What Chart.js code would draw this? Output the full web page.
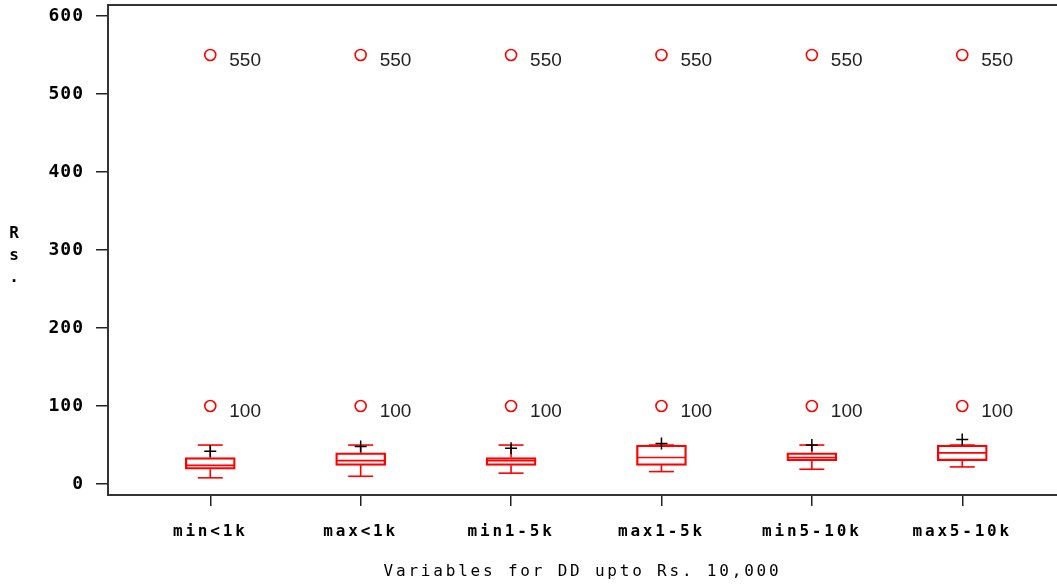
<!DOCTYPE html>
<html>
<head>
<meta charset="utf-8">
<script src="https://cdn.jsdelivr.net/npm/chart.js@4.4.1/dist/chart.umd.min.js"></script>
<style>
  body { margin: 0; background: #fff; }
  canvas { display: block; }
</style>
</head>
<body>
<canvas id="myChart" width="1057" height="586"></canvas>
<script>
// values
const categories = ['min<1k', 'max<1k', 'min1-5k', 'max1-5k', 'min5-10k', 'max5-10k'];
const whiskerLow = [8, 10, 14, 16, 19, 22];
const q1 = [19, 24, 24, 24, 30, 30];
const medians = [24, 30, 30, 34, 34, 40];
const q3 = [34, 40, 34, 50, 40, 50];
const whiskerHigh = [50, 50, 50, 50, 50, 50];
const means = [42, 48, 46, 52, 50, 57];
const outliers = [100, 550];
const yTicks = [0, 100, 200, 300, 400, 500, 600];

const red = '#ff0000';

// whisker segments, null breaks the line between them
const whiskerPoints = [];
categories.forEach((c, i) => {
  whiskerPoints.push({ x: i + 1, y: whiskerLow[i] }, { x: i + 1, y: q1[i] }, { x: i + 1, y: null });
  whiskerPoints.push({ x: i + 1, y: q3[i] }, { x: i + 1, y: whiskerHigh[i] }, { x: i + 1, y: null });
});

const capPoints = [];
categories.forEach((c, i) => {
  capPoints.push({ x: i + 1, y: whiskerLow[i] }, { x: i + 1, y: whiskerHigh[i] });
});

const outlierPoints = [];
categories.forEach((c, i) => {
  outliers.forEach((v) => outlierPoints.push({ x: i + 1, y: v }));
});

const framePlugin = {
  id: 'framePlugin',
  beforeDraw(chart) {
    chart.ctx.letterSpacing = '1px';
  },
  afterDatasetsDraw(chart) {
    const { ctx, chartArea, scales } = chart;
    ctx.save();
    ctx.letterSpacing = '0px';
    // top edge of the frame
    ctx.strokeStyle = '#333';
    ctx.lineWidth = 2;
    ctx.beginPath();
    ctx.moveTo(chartArea.left, chartArea.top);
    ctx.lineTo(chartArea.right, chartArea.top);
    ctx.stroke();

    // outlier labels
    ctx.font = '19px "Liberation Sans"';
    ctx.fillStyle = '#222';
    ctx.textAlign = 'left';
    ctx.textBaseline = 'alphabetic';
    outlierPoints.forEach((p) => {
      const px = scales.x.getPixelForValue(p.x);
      const py = scales.y.getPixelForValue(p.y);
      ctx.fillText(String(p.y), px + 19, py + 11);
    });

    // y title, stacked letters
    ctx.font = 'bold 16px "DejaVu Sans Mono"';
    ctx.fillStyle = '#000';
    ctx.textAlign = 'center';
    ctx.textBaseline = 'middle';
    ['R', 's', '.'].forEach((ch, k) => ctx.fillText(ch, 14, 234 + k * 22));
    ctx.restore();
    // x axis is drawn after this hook (z: 1), wider letter spacing there
    ctx.letterSpacing = '2.8px';
  },
  afterDraw(chart) {
    chart.ctx.letterSpacing = '0px';
  }
};

const ctx = document.getElementById('myChart').getContext('2d');
const chart = new Chart(ctx, {
  type: 'scatter',
  data: {
    datasets: [
      {
        type: 'scatter',
        label: 'mean',
        data: categories.map((c, i) => ({ x: i + 1, y: means[i] })),
        pointStyle: 'cross',
        radius: 6,
        borderColor: '#000',
        borderWidth: 1.5,
        order: 0
      },
      {
        type: 'scatter',
        label: 'outliers',
        data: outlierPoints,
        pointStyle: 'circle',
        radius: 5.5,
        borderColor: red,
        backgroundColor: '#fff',
        borderWidth: 1.6,
        order: 1
      },
      {
        type: 'scatter',
        label: 'median',
        data: categories.map((c, i) => ({ x: i + 1, y: medians[i] })),
        pointStyle: 'line',
        radius: 24,
        borderColor: red,
        borderWidth: 1.6,
        order: 2
      },
      {
        type: 'scatter',
        label: 'caps',
        data: capPoints,
        pointStyle: 'line',
        radius: 12.5,
        borderColor: red,
        borderWidth: 1.6,
        order: 3
      },
      {
        type: 'line',
        label: 'whiskers',
        data: whiskerPoints,
        borderColor: red,
        borderWidth: 1.6,
        pointRadius: 0,
        spanGaps: false,
        fill: false,
        order: 4
      },
      {
        type: 'bar',
        label: 'box',
        data: categories.map((c, i) => ({ x: i + 1, y: [q1[i], q3[i]] })),
        borderColor: red,
        backgroundColor: 'rgba(255,255,255,0)',
        borderWidth: 1.6,
        borderSkipped: false,
        barThickness: 50,
        order: 5
      }
    ]
  },
  options: {
    responsive: false,
    animation: false,
    events: [],
    layout: { autoPadding: false, padding: { top: 5, left: 0, right: 0, bottom: 0 } },
    plugins: {
      legend: { display: false },
      tooltip: { enabled: false }
    },
    scales: {
      x: {
        type: 'linear',
        min: 0.32,
        max: 6.63,
        offset: false,
        afterFit: (scale) => {
          scale.height = 91;
          scale.paddingLeft = 0;
          scale.paddingRight = 0;
        },
        afterBuildTicks: (scale) => {
          scale.ticks = categories.map((c, i) => ({ value: i + 1 }));
        },
        grid: { offset: false, drawOnChartArea: false, tickLength: 11, color: '#222', lineWidth: 1.5, z: 1 },
        border: { display: true, color: '#333', width: 2, z: 1 },
        ticks: {
          z: 1,
          autoSkip: false,
          maxRotation: 0,
          padding: 16,
          color: '#000',
          font: { family: 'DejaVu Sans Mono', size: 16, weight: 'bold' },
          callback: (v) => categories[v - 1]
        },
        title: {
          display: true,
          text: 'Variables for DD upto Rs. 10,000',
          color: '#000',
          font: { family: 'DejaVu Sans Mono', size: 16 },
          padding: { top: 0, bottom: 5 }
        }
      },
      y: {
        type: 'linear',
        min: -14,
        max: 614,
        afterFit: (scale) => {
          scale.width = 108;
          scale.paddingTop = 0;
          scale.paddingBottom = 0;
        },
        afterBuildTicks: (scale) => {
          scale.ticks = yTicks.map((v) => ({ value: v }));
        },
        grid: { drawOnChartArea: false, tickLength: 12, color: '#222', lineWidth: 1.5 },
        border: { display: true, color: '#333', width: 2 },
        ticks: {
          padding: 12,
          color: '#000',
          font: { family: 'DejaVu Sans Mono', size: 18, weight: 'bold' }
        },
        title: { display: false }
      }
    }
  },
  plugins: [framePlugin]
});
</script>
</body>
</html>
